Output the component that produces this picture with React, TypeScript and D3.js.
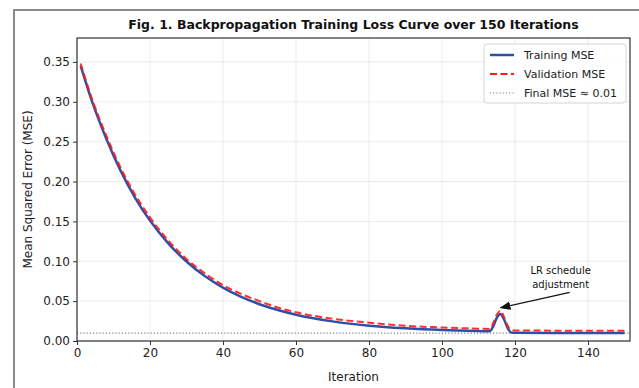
import React, { useEffect, useRef } from 'react';
import * as d3 from 'd3';

// iterations sampled along the curve (denser around the LR spike)
const iterations = [1, 4, 8, 12, 16, 20, 25, 30, 35, 40, 45, 50, 55, 60, 70, 80, 90, 100, 110, 113, 114, 115, 116, 117, 118, 119, 120, 130, 140, 150];
const trainingMse = [0.345, 0.302, 0.254, 0.213, 0.179, 0.151, 0.1225, 0.0997, 0.0814, 0.0669, 0.0553, 0.0461, 0.0388, 0.0329, 0.0246, 0.0192, 0.0159, 0.0137, 0.0124, 0.0121, 0.018, 0.029, 0.034, 0.027, 0.016, 0.0105, 0.0102, 0.0101, 0.0101, 0.0101];
const validationMse = [0.348, 0.305, 0.258, 0.217, 0.183, 0.155, 0.126, 0.103, 0.085, 0.070, 0.059, 0.050, 0.042, 0.036, 0.028, 0.023, 0.019, 0.017, 0.0155, 0.0152, 0.022, 0.033, 0.038, 0.030, 0.019, 0.0135, 0.0132, 0.013, 0.0128, 0.0128];
const finalMse = 0.01;
const xTicks = [0, 20, 40, 60, 80, 100, 120, 140];
const yTicks = [0, 0.05, 0.1, 0.15, 0.2, 0.25, 0.3, 0.35];
const legendLabels = ['Training MSE', 'Validation MSE', 'Final MSE \u2248 0.01'];
const spikeIter = 115.8;
const spikeValue = 0.038;

const App = () => {
  const svgRef = useRef(null);

  useEffect(() => {
    const svg = d3.select(svgRef.current);
    svg.selectAll('*').remove();

    const W = 639, H = 388;
    const margin = { top: 38, right: 9, bottom: 47, left: 77 };
    const width = W - margin.left - margin.right;
    const height = H - margin.top - margin.bottom;
    const font = 'DejaVu Sans, sans-serif';

    svg.attr('width', W).attr('height', H).style('font-family', font);

    svg.append('rect').attr('width', W).attr('height', H).attr('fill', '#fff');
    // outer frame of the figure
    svg.append('rect')
      .attr('x', 14).attr('y', 10)
      .attr('width', W + 20).attr('height', H + 20)
      .attr('fill', 'none').attr('stroke', '#8a8a8a').attr('stroke-width', 2);

    const x = d3.scaleLinear().domain([0, 151.5]).range([0, width]);
    const y = d3.scaleLinear().domain([0, 0.38]).range([height, 0]);

    const g = svg.append('g').attr('transform', `translate(${margin.left}, ${margin.top})`);

    // grid
    g.selectAll('.vgrid').data(xTicks).enter().append('line')
      .attr('x1', (d) => x(d)).attr('x2', (d) => x(d))
      .attr('y1', 0).attr('y2', height)
      .attr('stroke', '#b0b0b0').attr('stroke-opacity', 0.3).attr('stroke-width', 0.8);
    g.selectAll('.hgrid').data(yTicks).enter().append('line')
      .attr('x1', 0).attr('x2', width)
      .attr('y1', (d) => y(d)).attr('y2', (d) => y(d))
      .attr('stroke', '#b0b0b0').attr('stroke-opacity', 0.3).attr('stroke-width', 0.8);

    // final mse reference line
    g.append('line')
      .attr('x1', 0).attr('x2', width)
      .attr('y1', y(finalMse)).attr('y2', y(finalMse))
      .attr('stroke', '#808080').attr('stroke-width', 1.2)
      .attr('stroke-dasharray', '1.2,2');

    const line = (vals) => d3.line()
      .x((d, i) => x(iterations[i]))
      .y((d) => y(d))
      .curve(d3.curveMonotoneX)(vals);

    g.append('path').attr('d', line(trainingMse))
      .attr('fill', 'none').attr('stroke', '#2f4ea6').attr('stroke-width', 2.5);
    g.append('path').attr('d', line(validationMse))
      .attr('fill', 'none').attr('stroke', '#ff1a1a').attr('stroke-opacity', 0.9)
      .attr('stroke-width', 2).attr('stroke-dasharray', '7,3.5');

    // annotation
    svg.append('defs').append('marker')
      .attr('id', 'arrow').attr('viewBox', '0 0 10 10')
      .attr('refX', 9).attr('refY', 5)
      .attr('markerWidth', 9).attr('markerHeight', 9)
      .attr('orient', 'auto-start-reverse')
      .append('path').attr('d', 'M0,1 L10,5 L0,9 z').attr('fill', '#111');
    g.append('line')
      .attr('x1', x(135)).attr('y1', y(0.061))
      .attr('x2', x(spikeIter) + 1).attr('y2', y(spikeValue) - 3)
      .attr('stroke', '#111').attr('stroke-width', 1.2)
      .attr('marker-end', 'url(#arrow)');
    const ann = g.append('text').attr('x', x(132.5)).attr('text-anchor', 'middle')
      .attr('font-size', 10).attr('fill', '#111');
    ann.append('tspan').attr('x', x(132.5)).attr('y', y(0.084)).text('LR schedule');
    ann.append('tspan').attr('x', x(132.5)).attr('y', y(0.066)).text('adjustment');

    // axes
    const xAxis = g.append('g').attr('transform', `translate(0, ${height})`)
      .call(d3.axisBottom(x).tickValues(xTicks).tickSize(4).tickPadding(3).tickFormat(d3.format('d')));
    const yAxis = g.append('g')
      .call(d3.axisLeft(y).tickValues(yTicks).tickSize(4).tickPadding(3).tickFormat(d3.format('.2f')));
    [xAxis, yAxis].forEach((a) => {
      a.select('.domain').remove();
      a.selectAll('text').attr('font-size', 12).attr('font-family', font).attr('fill', '#222');
      a.selectAll('line').attr('stroke', '#333').attr('stroke-width', 1);
    });

    g.append('rect').attr('width', width).attr('height', height)
      .attr('fill', 'none').attr('stroke', '#333').attr('stroke-width', 1.2);

    // legend
    const lg = g.append('g').attr('transform', `translate(${width - 146}, 6)`);
    lg.append('rect').attr('width', 142).attr('height', 59).attr('rx', 3)
      .attr('fill', '#fff').attr('fill-opacity', 0.85).attr('stroke', '#d4d4d4');
    const styles = [
      { stroke: '#2f4ea6', w: 2.5, dash: null },
      { stroke: '#ff1a1a', w: 2, dash: '7,3.5' },
      { stroke: '#808080', w: 1.2, dash: '1.2,2' },
    ];
    legendLabels.forEach((label, i) => {
      const yy = 11 + i * 19;
      lg.append('line').attr('x1', 6).attr('x2', 30).attr('y1', yy).attr('y2', yy)
        .attr('stroke', styles[i].stroke).attr('stroke-width', styles[i].w)
        .attr('stroke-dasharray', styles[i].dash);
      lg.append('text').attr('x', 40).attr('y', yy + 4).attr('font-size', 11).attr('fill', '#222').text(label);
    });

    // labels
    svg.append('text').attr('x', margin.left + width / 2).attr('y', 29)
      .attr('text-anchor', 'middle').attr('font-size', 12.5).attr('font-weight', 'bold')
      .attr('fill', '#111')
      .text('Fig. 1. Backpropagation Training Loss Curve over 150 Iterations');
    svg.append('text').attr('x', margin.left + width / 2).attr('y', 381)
      .attr('text-anchor', 'middle').attr('font-size', 12).attr('fill', '#222').text('Iteration');
    svg.append('text').attr('transform', `translate(32, ${margin.top + height / 2}) rotate(-90)`)
      .attr('text-anchor', 'middle').attr('font-size', 12).attr('fill', '#222')
      .text('Mean Squared Error (MSE)');
  }, []);

  return (
    <div style={{ position: 'absolute', left: 0, top: 0 }}>
      <svg ref={svgRef}></svg>
    </div>
  );
};

export default App;
